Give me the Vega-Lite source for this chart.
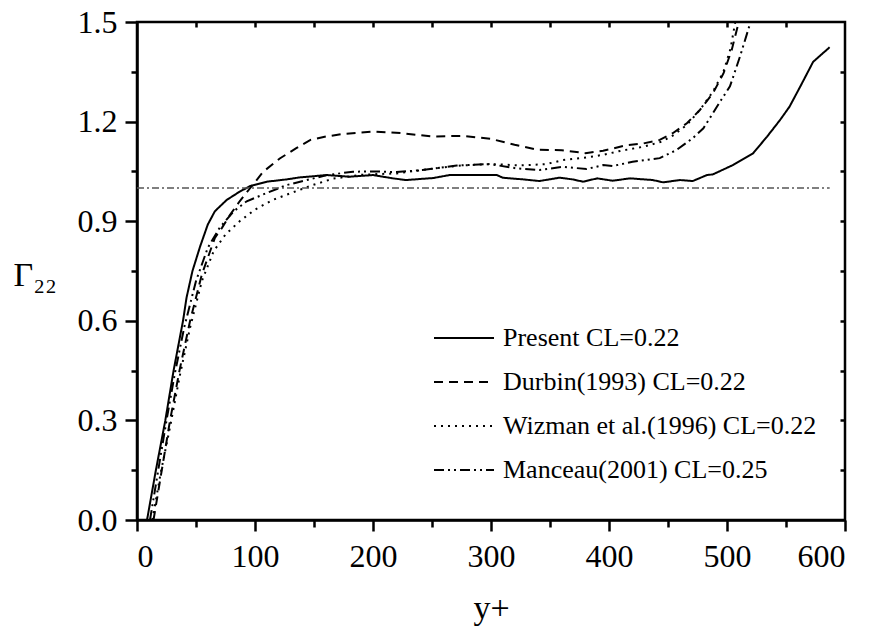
{
  "$schema": "https://vega.github.io/schema/vega-lite/v6.json",
  "width": 708,
  "height": 498,
  "autosize": {"type": "none"},
  "padding": {"left": 137, "top": 22, "right": 32, "bottom": 108},
  "background": "white",
  "config": {
    "view": {"stroke": "black", "strokeWidth": 2.5},
    "font": "Liberation Serif",
    "axis": {
      "labelFont": "Liberation Serif",
      "titleFont": "Liberation Serif",
      "labelColor": "black",
      "titleColor": "black",
      "domainColor": "black",
      "tickColor": "black",
      "grid": false,
      "labelFontSize": 32,
      "titleFontSize": 34,
      "titleFontWeight": "normal",
      "domainWidth": 2.5,
      "tickWidth": 2.5
    },
    "legend": {
      "labelFont": "Liberation Serif",
      "labelFontSize": 26,
      "labelColor": "black",
      "labelLimit": 500
    }
  },
  "datasets": {
    "curves": [
      {"series": "Present CL=0.22", "yplus": 8.5, "gamma": 0},
      {"series": "Present CL=0.22", "yplus": 16, "gamma": 0.15},
      {"series": "Present CL=0.22", "yplus": 24, "gamma": 0.3},
      {"series": "Present CL=0.22", "yplus": 31, "gamma": 0.45},
      {"series": "Present CL=0.22", "yplus": 39, "gamma": 0.6},
      {"series": "Present CL=0.22", "yplus": 42, "gamma": 0.67},
      {"series": "Present CL=0.22", "yplus": 47, "gamma": 0.75},
      {"series": "Present CL=0.22", "yplus": 53.4, "gamma": 0.823},
      {"series": "Present CL=0.22", "yplus": 60, "gamma": 0.89},
      {"series": "Present CL=0.22", "yplus": 66, "gamma": 0.93},
      {"series": "Present CL=0.22", "yplus": 76, "gamma": 0.964},
      {"series": "Present CL=0.22", "yplus": 87, "gamma": 0.989},
      {"series": "Present CL=0.22", "yplus": 96, "gamma": 1.006},
      {"series": "Present CL=0.22", "yplus": 110, "gamma": 1.019},
      {"series": "Present CL=0.22", "yplus": 127, "gamma": 1.026},
      {"series": "Present CL=0.22", "yplus": 138, "gamma": 1.032},
      {"series": "Present CL=0.22", "yplus": 161, "gamma": 1.039},
      {"series": "Present CL=0.22", "yplus": 180, "gamma": 1.034},
      {"series": "Present CL=0.22", "yplus": 200, "gamma": 1.039},
      {"series": "Present CL=0.22", "yplus": 217, "gamma": 1.029},
      {"series": "Present CL=0.22", "yplus": 228, "gamma": 1.024},
      {"series": "Present CL=0.22", "yplus": 251, "gamma": 1.03},
      {"series": "Present CL=0.22", "yplus": 265, "gamma": 1.039},
      {"series": "Present CL=0.22", "yplus": 305, "gamma": 1.039},
      {"series": "Present CL=0.22", "yplus": 310, "gamma": 1.031},
      {"series": "Present CL=0.22", "yplus": 327, "gamma": 1.026},
      {"series": "Present CL=0.22", "yplus": 341, "gamma": 1.021},
      {"series": "Present CL=0.22", "yplus": 358, "gamma": 1.031},
      {"series": "Present CL=0.22", "yplus": 369, "gamma": 1.026},
      {"series": "Present CL=0.22", "yplus": 378, "gamma": 1.019},
      {"series": "Present CL=0.22", "yplus": 390, "gamma": 1.029},
      {"series": "Present CL=0.22", "yplus": 403, "gamma": 1.022},
      {"series": "Present CL=0.22", "yplus": 418, "gamma": 1.029},
      {"series": "Present CL=0.22", "yplus": 437, "gamma": 1.024},
      {"series": "Present CL=0.22", "yplus": 446, "gamma": 1.017},
      {"series": "Present CL=0.22", "yplus": 460, "gamma": 1.024},
      {"series": "Present CL=0.22", "yplus": 471, "gamma": 1.021},
      {"series": "Present CL=0.22", "yplus": 483, "gamma": 1.039},
      {"series": "Present CL=0.22", "yplus": 488, "gamma": 1.041},
      {"series": "Present CL=0.22", "yplus": 505, "gamma": 1.069},
      {"series": "Present CL=0.22", "yplus": 522, "gamma": 1.104},
      {"series": "Present CL=0.22", "yplus": 534, "gamma": 1.155},
      {"series": "Present CL=0.22", "yplus": 545, "gamma": 1.205},
      {"series": "Present CL=0.22", "yplus": 553, "gamma": 1.245},
      {"series": "Present CL=0.22", "yplus": 562, "gamma": 1.305},
      {"series": "Present CL=0.22", "yplus": 573, "gamma": 1.38},
      {"series": "Present CL=0.22", "yplus": 587, "gamma": 1.424},

      {"series": "Durbin(1993) CL=0.22", "yplus": 14, "gamma": 0},
      {"series": "Durbin(1993) CL=0.22", "yplus": 21, "gamma": 0.15},
      {"series": "Durbin(1993) CL=0.22", "yplus": 28, "gamma": 0.3},
      {"series": "Durbin(1993) CL=0.22", "yplus": 36, "gamma": 0.45},
      {"series": "Durbin(1993) CL=0.22", "yplus": 45, "gamma": 0.6},
      {"series": "Durbin(1993) CL=0.22", "yplus": 55, "gamma": 0.74},
      {"series": "Durbin(1993) CL=0.22", "yplus": 66, "gamma": 0.85},
      {"series": "Durbin(1993) CL=0.22", "yplus": 72, "gamma": 0.88},
      {"series": "Durbin(1993) CL=0.22", "yplus": 79, "gamma": 0.92},
      {"series": "Durbin(1993) CL=0.22", "yplus": 87, "gamma": 0.96},
      {"series": "Durbin(1993) CL=0.22", "yplus": 96, "gamma": 1.0},
      {"series": "Durbin(1993) CL=0.22", "yplus": 107, "gamma": 1.049},
      {"series": "Durbin(1993) CL=0.22", "yplus": 121, "gamma": 1.089},
      {"series": "Durbin(1993) CL=0.22", "yplus": 135, "gamma": 1.12},
      {"series": "Durbin(1993) CL=0.22", "yplus": 147, "gamma": 1.145},
      {"series": "Durbin(1993) CL=0.22", "yplus": 160, "gamma": 1.155},
      {"series": "Durbin(1993) CL=0.22", "yplus": 175, "gamma": 1.163},
      {"series": "Durbin(1993) CL=0.22", "yplus": 200, "gamma": 1.17},
      {"series": "Durbin(1993) CL=0.22", "yplus": 225, "gamma": 1.165},
      {"series": "Durbin(1993) CL=0.22", "yplus": 250, "gamma": 1.155},
      {"series": "Durbin(1993) CL=0.22", "yplus": 275, "gamma": 1.157},
      {"series": "Durbin(1993) CL=0.22", "yplus": 300, "gamma": 1.148},
      {"series": "Durbin(1993) CL=0.22", "yplus": 320, "gamma": 1.13},
      {"series": "Durbin(1993) CL=0.22", "yplus": 340, "gamma": 1.115},
      {"series": "Durbin(1993) CL=0.22", "yplus": 360, "gamma": 1.114},
      {"series": "Durbin(1993) CL=0.22", "yplus": 380, "gamma": 1.105},
      {"series": "Durbin(1993) CL=0.22", "yplus": 395, "gamma": 1.112},
      {"series": "Durbin(1993) CL=0.22", "yplus": 415, "gamma": 1.129},
      {"series": "Durbin(1993) CL=0.22", "yplus": 429, "gamma": 1.134},
      {"series": "Durbin(1993) CL=0.22", "yplus": 443, "gamma": 1.145},
      {"series": "Durbin(1993) CL=0.22", "yplus": 454, "gamma": 1.165},
      {"series": "Durbin(1993) CL=0.22", "yplus": 466, "gamma": 1.195},
      {"series": "Durbin(1993) CL=0.22", "yplus": 477, "gamma": 1.235},
      {"series": "Durbin(1993) CL=0.22", "yplus": 488, "gamma": 1.285},
      {"series": "Durbin(1993) CL=0.22", "yplus": 497, "gamma": 1.345},
      {"series": "Durbin(1993) CL=0.22", "yplus": 504, "gamma": 1.416},
      {"series": "Durbin(1993) CL=0.22", "yplus": 510, "gamma": 1.5},

      {"series": "Wizman et al.(1996) CL=0.22", "yplus": 13, "gamma": 0},
      {"series": "Wizman et al.(1996) CL=0.22", "yplus": 20, "gamma": 0.14},
      {"series": "Wizman et al.(1996) CL=0.22", "yplus": 28, "gamma": 0.28},
      {"series": "Wizman et al.(1996) CL=0.22", "yplus": 36, "gamma": 0.43},
      {"series": "Wizman et al.(1996) CL=0.22", "yplus": 45, "gamma": 0.58},
      {"series": "Wizman et al.(1996) CL=0.22", "yplus": 55, "gamma": 0.72},
      {"series": "Wizman et al.(1996) CL=0.22", "yplus": 65, "gamma": 0.81},
      {"series": "Wizman et al.(1996) CL=0.22", "yplus": 75, "gamma": 0.86},
      {"series": "Wizman et al.(1996) CL=0.22", "yplus": 87, "gamma": 0.9},
      {"series": "Wizman et al.(1996) CL=0.22", "yplus": 100, "gamma": 0.935},
      {"series": "Wizman et al.(1996) CL=0.22", "yplus": 115, "gamma": 0.964},
      {"series": "Wizman et al.(1996) CL=0.22", "yplus": 130, "gamma": 0.984},
      {"series": "Wizman et al.(1996) CL=0.22", "yplus": 149, "gamma": 1.009},
      {"series": "Wizman et al.(1996) CL=0.22", "yplus": 166, "gamma": 1.028},
      {"series": "Wizman et al.(1996) CL=0.22", "yplus": 190, "gamma": 1.04},
      {"series": "Wizman et al.(1996) CL=0.22", "yplus": 220, "gamma": 1.044},
      {"series": "Wizman et al.(1996) CL=0.22", "yplus": 250, "gamma": 1.058},
      {"series": "Wizman et al.(1996) CL=0.22", "yplus": 275, "gamma": 1.068},
      {"series": "Wizman et al.(1996) CL=0.22", "yplus": 300, "gamma": 1.072},
      {"series": "Wizman et al.(1996) CL=0.22", "yplus": 325, "gamma": 1.068},
      {"series": "Wizman et al.(1996) CL=0.22", "yplus": 347, "gamma": 1.072},
      {"series": "Wizman et al.(1996) CL=0.22", "yplus": 361, "gamma": 1.084},
      {"series": "Wizman et al.(1996) CL=0.22", "yplus": 381, "gamma": 1.092},
      {"series": "Wizman et al.(1996) CL=0.22", "yplus": 395, "gamma": 1.1},
      {"series": "Wizman et al.(1996) CL=0.22", "yplus": 410, "gamma": 1.112},
      {"series": "Wizman et al.(1996) CL=0.22", "yplus": 430, "gamma": 1.125},
      {"series": "Wizman et al.(1996) CL=0.22", "yplus": 445, "gamma": 1.14},
      {"series": "Wizman et al.(1996) CL=0.22", "yplus": 455, "gamma": 1.16},
      {"series": "Wizman et al.(1996) CL=0.22", "yplus": 466, "gamma": 1.19},
      {"series": "Wizman et al.(1996) CL=0.22", "yplus": 477, "gamma": 1.235},
      {"series": "Wizman et al.(1996) CL=0.22", "yplus": 488, "gamma": 1.29},
      {"series": "Wizman et al.(1996) CL=0.22", "yplus": 497, "gamma": 1.35},
      {"series": "Wizman et al.(1996) CL=0.22", "yplus": 503, "gamma": 1.42},
      {"series": "Wizman et al.(1996) CL=0.22", "yplus": 507, "gamma": 1.5},

      {"series": "Manceau(2001) CL=0.25", "yplus": 11, "gamma": 0},
      {"series": "Manceau(2001) CL=0.25", "yplus": 18, "gamma": 0.15},
      {"series": "Manceau(2001) CL=0.25", "yplus": 25, "gamma": 0.3},
      {"series": "Manceau(2001) CL=0.25", "yplus": 32, "gamma": 0.44},
      {"series": "Manceau(2001) CL=0.25", "yplus": 40, "gamma": 0.58},
      {"series": "Manceau(2001) CL=0.25", "yplus": 50, "gamma": 0.72},
      {"series": "Manceau(2001) CL=0.25", "yplus": 60, "gamma": 0.82},
      {"series": "Manceau(2001) CL=0.25", "yplus": 70, "gamma": 0.88},
      {"series": "Manceau(2001) CL=0.25", "yplus": 82, "gamma": 0.93},
      {"series": "Manceau(2001) CL=0.25", "yplus": 93, "gamma": 0.96},
      {"series": "Manceau(2001) CL=0.25", "yplus": 110, "gamma": 0.985},
      {"series": "Manceau(2001) CL=0.25", "yplus": 127, "gamma": 1.009},
      {"series": "Manceau(2001) CL=0.25", "yplus": 144, "gamma": 1.024},
      {"series": "Manceau(2001) CL=0.25", "yplus": 161, "gamma": 1.039},
      {"series": "Manceau(2001) CL=0.25", "yplus": 183, "gamma": 1.049},
      {"series": "Manceau(2001) CL=0.25", "yplus": 200, "gamma": 1.05},
      {"series": "Manceau(2001) CL=0.25", "yplus": 220, "gamma": 1.048},
      {"series": "Manceau(2001) CL=0.25", "yplus": 242, "gamma": 1.054},
      {"series": "Manceau(2001) CL=0.25", "yplus": 271, "gamma": 1.068},
      {"series": "Manceau(2001) CL=0.25", "yplus": 299, "gamma": 1.072},
      {"series": "Manceau(2001) CL=0.25", "yplus": 322, "gamma": 1.059},
      {"series": "Manceau(2001) CL=0.25", "yplus": 341, "gamma": 1.054},
      {"series": "Manceau(2001) CL=0.25", "yplus": 361, "gamma": 1.064},
      {"series": "Manceau(2001) CL=0.25", "yplus": 381, "gamma": 1.057},
      {"series": "Manceau(2001) CL=0.25", "yplus": 395, "gamma": 1.069},
      {"series": "Manceau(2001) CL=0.25", "yplus": 403, "gamma": 1.066},
      {"series": "Manceau(2001) CL=0.25", "yplus": 420, "gamma": 1.079},
      {"series": "Manceau(2001) CL=0.25", "yplus": 443, "gamma": 1.09},
      {"series": "Manceau(2001) CL=0.25", "yplus": 457, "gamma": 1.114},
      {"series": "Manceau(2001) CL=0.25", "yplus": 471, "gamma": 1.15},
      {"series": "Manceau(2001) CL=0.25", "yplus": 480, "gamma": 1.18},
      {"series": "Manceau(2001) CL=0.25", "yplus": 488, "gamma": 1.225},
      {"series": "Manceau(2001) CL=0.25", "yplus": 495, "gamma": 1.265},
      {"series": "Manceau(2001) CL=0.25", "yplus": 502.5, "gamma": 1.306},
      {"series": "Manceau(2001) CL=0.25", "yplus": 511, "gamma": 1.396},
      {"series": "Manceau(2001) CL=0.25", "yplus": 520, "gamma": 1.5}
    ],
    "ref": [
      {"yplus": 0, "gamma": 1},
      {"yplus": 587, "gamma": 1}
    ]
  },
  "layer": [
    {
      "data": {"name": "curves"},
      "mark": {"type": "line", "color": "black", "strokeWidth": 2, "clip": true},
      "encoding": {
        "x": {
          "field": "yplus", "type": "quantitative",
          "scale": {"domain": [0, 600], "nice": false, "zero": false},
          "axis": {
            "orient": "bottom", "title": "y+",
            "labelFont": "Liberation Serif", "titleFont": "Liberation Serif",
            "values": [0, 100, 200, 300, 400, 500, 600],
            "tickSize": 11, "labelPadding": 10,
            "titleY": 98, "titleBaseline": "alphabetic"
          }
        },
        "y": {
          "field": "gamma", "type": "quantitative",
          "scale": {"domain": [0, 1.5], "nice": false, "zero": false},
          "axis": {
            "orient": "left", "title": "Γ₂₂",
            "labelFont": "Liberation Serif", "titleFont": "Liberation Serif",
            "values": [0, 0.3, 0.6, 0.9, 1.2, 1.5],
            "format": ".1f",
            "tickSize": 12, "labelPadding": 8,
            "titleAngle": 0, "titleX": -124, "titleY": 263,
            "titleAlign": "left", "titleBaseline": "alphabetic"
          }
        },
        "strokeDash": {
          "field": "series", "type": "nominal",
          "scale": {
            "domain": ["Present CL=0.22", "Durbin(1993) CL=0.22", "Wizman et al.(1996) CL=0.22", "Manceau(2001) CL=0.25"],
            "range": [[1, 0], [9, 6], [2, 5], [10, 4, 2, 4, 2, 4]]
          },
          "legend": {
            "title": null,
            "orient": "none",
            "legendX": 296,
            "legendY": 285,
            "padding": 0,
            "symbolType": "stroke",
            "symbolSize": 3600,
            "symbolStrokeWidth": 2,
            "symbolStrokeColor": "black",
            "rowPadding": -20,
            "labelOffset": 8,
            "labelLimit": 500,
            "labelFont": "Liberation Serif"
          }
        },
        "order": {"field": "yplus", "type": "quantitative"}
      }
    },
    {
      "data": {"name": "ref"},
      "mark": {"type": "line", "color": "#555555", "strokeWidth": 1.5, "strokeDash": [7, 3, 2, 3]},
      "encoding": {
        "x": {
          "field": "yplus", "type": "quantitative",
          "axis": {
            "orient": "bottom", "title": null, "labels": false, "domain": false,
            "values": [50, 150, 250, 350, 450, 550], "tickSize": 7
          }
        },
        "y": {
          "field": "gamma", "type": "quantitative",
          "axis": {
            "orient": "left", "title": null, "labels": false, "domain": false,
            "values": [0.15, 0.45, 0.75, 1.05, 1.35], "tickSize": 6
          }
        }
      }
    },
    {
      "data": {"name": "ref"},
      "mark": {"type": "line", "opacity": 0},
      "encoding": {
        "x": {
          "field": "yplus", "type": "quantitative",
          "axis": {
            "orient": "top", "title": null, "labels": false, "domain": false,
            "values": [50, 100, 150, 200, 250, 300, 350, 400, 450, 500, 550], "tickSize": -5
          }
        },
        "y": {
          "field": "gamma", "type": "quantitative",
          "axis": {
            "orient": "right", "title": null, "labels": false, "domain": false,
            "values": [0.15, 0.3, 0.45, 0.6, 0.75, 0.9, 1.05, 1.2, 1.35], "tickSize": -5
          }
        }
      }
    }
  ],
  "resolve": {"axis": {"x": "independent", "y": "independent"}}
}
